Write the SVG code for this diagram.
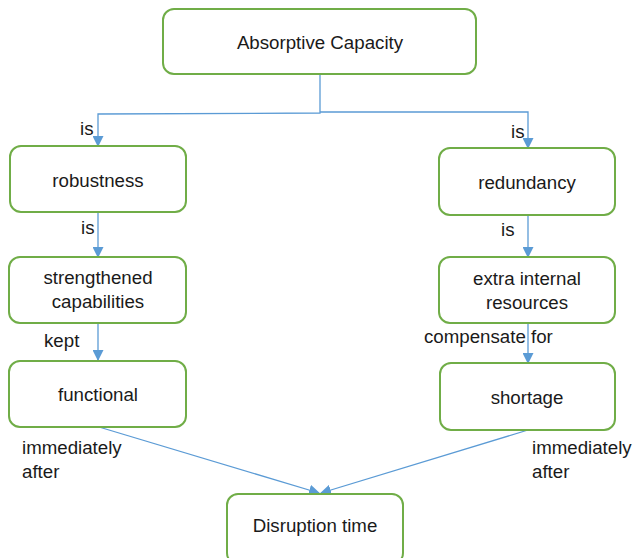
<svg xmlns="http://www.w3.org/2000/svg" width="635" height="558" viewBox="0 0 635 558">
<style>
.n{fill:#fff;stroke:#70AD47;stroke-width:2}
.t{font-family:"Liberation Sans",Arial,sans-serif;font-size:18.7px;fill:#1a1a1a;text-anchor:middle}
.l{font-family:"Liberation Sans",Arial,sans-serif;font-size:18.7px;fill:#1a1a1a}
.c{fill:none;stroke:#5B9BD5;stroke-width:1.3}
</style>
<defs>
<marker id="a" markerWidth="11" markerHeight="11" refX="10" refY="5.5" orient="auto" markerUnits="userSpaceOnUse">
<path d="M0,0 L11,5.5 L0,11 z" fill="#5B9BD5"/>
</marker>
</defs>
<rect width="635" height="558" fill="#fff"/>
<g id="connectors">
<polyline class="c" points="320,74 320,113 98,114 98,146" marker-end="url(#a)"/>
<polyline class="c" points="320,112 528,112 528,148" marker-end="url(#a)"/>
<line class="c" x1="98" y1="212" x2="98" y2="257" marker-end="url(#a)"/>
<line class="c" x1="98" y1="323" x2="98" y2="360" marker-end="url(#a)"/>
<line class="c" x1="528" y1="215" x2="528" y2="257" marker-end="url(#a)"/>
<line class="c" x1="528" y1="323" x2="528" y2="363" marker-end="url(#a)"/>
<line class="c" x1="99" y1="427" x2="319" y2="493" marker-end="url(#a)"/>
<line class="c" x1="528" y1="430" x2="321" y2="493" marker-end="url(#a)"/>
<text class="l" x="80" y="135">is</text>
<text class="l" x="511" y="138">is</text>
<text class="l" x="81" y="234">is</text>
<text class="l" x="501" y="236">is</text>
<text class="l" x="44" y="347">kept</text>
<text class="l" x="424" y="343">compensate for</text>
<text class="l" x="22" y="454">immediately</text>
<text class="l" x="22" y="478">after</text>
<text class="l" x="532" y="454">immediately</text>
<text class="l" x="532" y="478">after</text>
</g>
<g id="absorptive"><rect class="n" x="163" y="9" width="313" height="65" rx="11"/><text class="t" x="320" y="49">Absorptive Capacity</text></g>
<g id="robustness"><rect class="n" x="10" y="146" width="176" height="66" rx="11"/><text class="t" x="98" y="187">robustness</text></g>
<g id="strengthened"><rect class="n" x="9" y="257" width="177" height="66" rx="11"/><text class="t" x="98" y="284">strengthened</text><text class="t" x="98" y="308">capabilities</text></g>
<g id="functional"><rect class="n" x="9" y="361" width="177" height="66" rx="11"/><text class="t" x="98" y="401">functional</text></g>
<g id="redundancy"><rect class="n" x="439" y="148" width="176" height="67" rx="11"/><text class="t" x="527" y="189">redundancy</text></g>
<g id="extra"><rect class="n" x="439" y="257" width="176" height="66" rx="11"/><text class="t" x="527" y="285">extra internal</text><text class="t" x="527" y="309">resources</text></g>
<g id="shortage"><rect class="n" x="440" y="363" width="175" height="67" rx="11"/><text class="t" x="527" y="404">shortage</text></g>
<g id="disruption"><rect class="n" x="227" y="494" width="176" height="70" rx="11"/><text class="t" x="315" y="532">Disruption time</text></g>
</svg>
